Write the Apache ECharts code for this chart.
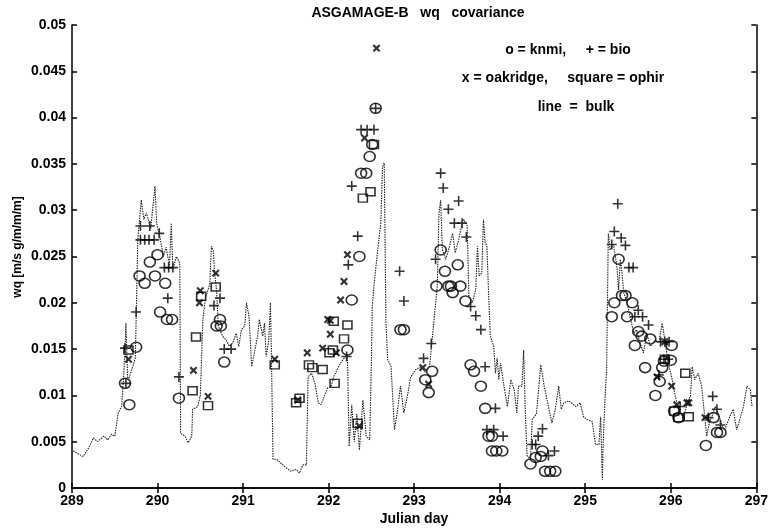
<!DOCTYPE html>
<html>
<head>
<meta charset="utf-8">
<script src="https://cdn.jsdelivr.net/npm/echarts@6/dist/echarts.min.js"></script>
<style>
  html, body { margin: 0; padding: 0; background: #fff; }
  #chart { width: 771px; height: 530px; }
</style>
</head>
<body>
<div id="chart"></div>
<script>
// Bulk-formula covariance (dotted line)
const bulkDay = [289.015,289.13,289.2,289.25,289.3,289.37,289.42,289.46,289.5,289.54,289.58,289.6,289.62,289.63,289.65,289.66,289.71,289.74,289.77,289.79,289.81,289.84,289.87,289.92,289.97,289.99,290.03,290.07,290.1,290.14,290.16,290.18,290.22,290.26,290.27,290.32,290.36,290.4,290.41,290.47,290.5,290.53,290.56,290.59,290.61,290.63,290.65,290.67,290.69,290.71,290.76,290.8,290.84,290.88,290.92,290.95,290.98,291.02,291.04,291.07,291.1,291.14,291.17,291.19,291.23,291.25,291.27,291.3,291.32,291.33,291.35,291.39,291.44,291.5,291.56,291.62,291.66,291.7,291.74,291.76,291.8,291.84,291.88,291.91,291.95,291.99,292.03,292.06,292.1,292.14,292.18,292.22,292.24,292.27,292.3,292.33,292.36,292.4,292.44,292.48,292.5,292.51,292.53,292.57,292.61,292.63,292.65,292.67,292.69,292.73,292.77,292.8,292.84,292.88,292.92,292.96,293.02,293.08,293.13,293.18,293.27,293.29,293.31,293.33,293.37,293.41,293.45,293.48,293.52,293.56,293.58,293.62,293.64,293.68,293.72,293.74,293.76,293.79,293.81,293.83,293.85,293.87,293.89,293.93,293.95,293.97,293.99,294.01,294.05,294.09,294.13,294.17,294.2,294.22,294.26,294.28,294.3,294.32,294.36,294.38,294.43,294.48,294.52,294.57,294.61,294.65,294.69,294.72,294.75,294.81,294.89,294.94,294.98,295.02,295.08,295.12,295.16,295.18,295.2,295.21,295.23,295.25,295.27,295.29,295.33,295.37,295.39,295.41,295.43,295.45,295.49,295.53,295.57,295.6,295.64,295.68,295.72,295.76,295.82,295.86,295.9,295.93,295.97,296.01,296.05,296.09,296.15,296.19,296.23,296.25,296.28,296.32,296.36,296.4,296.42,296.45,296.48,296.52,296.56,296.6,296.63,296.69,296.73,296.77,296.81,296.85,296.89,296.93,296.95];
const bulkVal = [0.0040,0.0034,0.0044,0.0054,0.0050,0.0056,0.0052,0.0058,0.0056,0.0081,0.0088,0.0115,0.0150,0.0178,0.0120,0.0117,0.0131,0.0140,0.0270,0.0290,0.0311,0.0290,0.0297,0.0280,0.0326,0.0286,0.0270,0.0250,0.0260,0.0240,0.0286,0.0236,0.0250,0.0243,0.0059,0.0056,0.0049,0.0056,0.0085,0.0088,0.0100,0.0182,0.0205,0.0214,0.0220,0.0261,0.0257,0.0230,0.0214,0.0175,0.0164,0.0160,0.0153,0.0157,0.0167,0.0153,0.0171,0.0175,0.0200,0.0185,0.0131,0.0150,0.0164,0.0182,0.0164,0.0178,0.0142,0.0160,0.0200,0.0150,0.0031,0.0031,0.0027,0.0022,0.0018,0.0020,0.0016,0.0025,0.0025,0.0120,0.0124,0.0113,0.0092,0.0090,0.0099,0.0108,0.0110,0.0120,0.0128,0.0135,0.0140,0.0145,0.0045,0.0090,0.0050,0.0080,0.0041,0.0095,0.0056,0.0052,0.0135,0.0196,0.0218,0.0254,0.0286,0.0347,0.0351,0.0180,0.0139,0.0131,0.0063,0.0080,0.0110,0.0081,0.0099,0.0120,0.0128,0.0131,0.0125,0.0131,0.0218,0.0297,0.0311,0.0257,0.0247,0.0260,0.0275,0.0254,0.0268,0.0286,0.0290,0.0283,0.0207,0.0200,0.0214,0.0261,0.0229,0.0232,0.0290,0.0265,0.0261,0.0211,0.0164,0.0153,0.0124,0.0140,0.0117,0.0135,0.0110,0.0088,0.0117,0.0106,0.0081,0.0110,0.0110,0.0149,0.0080,0.0035,0.0031,0.0074,0.0080,0.0133,0.0110,0.0088,0.0070,0.0085,0.0110,0.0085,0.0092,0.0094,0.0088,0.0092,0.0077,0.0074,0.0072,0.0047,0.0047,0.0077,0.0009,0.0049,0.0095,0.0128,0.0275,0.0257,0.0263,0.0239,0.0214,0.0247,0.0232,0.0211,0.0200,0.0182,0.0167,0.0171,0.0157,0.0146,0.0167,0.0153,0.0160,0.0157,0.0178,0.0160,0.0135,0.0120,0.0100,0.0085,0.0074,0.0092,0.0099,0.0131,0.0117,0.0124,0.0110,0.0074,0.0056,0.0070,0.0077,0.0088,0.0080,0.0067,0.0063,0.0077,0.0085,0.0063,0.0075,0.0088,0.0110,0.0106,0.0088];

// KNMI (circles)
const knmiDay = [289.62,289.67,289.75,289.79,289.85,289.91,290.0,289.97,290.09,290.03,290.11,290.17,290.25,290.69,290.74,290.78,290.73,292.22,292.27,292.36,292.38,292.44,292.48,292.51,292.55,292.84,292.88,293.13,293.17,293.21,293.26,293.31,293.36,293.4,293.43,293.45,293.51,293.54,293.6,293.66,293.7,293.78,293.83,293.87,293.91,293.91,293.96,294.03,294.36,294.42,294.48,294.5,294.53,294.59,294.65,295.31,295.34,295.39,295.43,295.47,295.49,295.55,295.58,295.62,295.66,295.7,295.76,295.82,295.87,295.9,295.92,296.0,296.01,296.04,296.09,296.41,296.5,296.54,296.58];
const knmiVal = [0.0113,0.0090,0.0152,0.0229,0.0221,0.0244,0.0252,0.0229,0.0221,0.0190,0.0182,0.0182,0.0097,0.0175,0.0175,0.0136,0.0182,0.0149,0.0203,0.0250,0.0340,0.0340,0.0358,0.0371,0.0410,0.0171,0.0171,0.0117,0.0103,0.0126,0.0218,0.0257,0.0234,0.0218,0.0218,0.0211,0.0241,0.0218,0.0202,0.0133,0.0126,0.0110,0.0086,0.0056,0.0056,0.0040,0.0040,0.0040,0.0026,0.0033,0.0034,0.0040,0.0018,0.0018,0.0018,0.0185,0.0200,0.0247,0.0208,0.0208,0.0185,0.0200,0.0154,0.0169,0.0164,0.0130,0.0161,0.0100,0.0115,0.0130,0.0137,0.0138,0.0154,0.0083,0.0076,0.0046,0.0076,0.0060,0.0060];

// BIO (plus)
const bioDay = [289.62,289.63,289.75,289.8,289.91,289.8,289.85,289.9,289.96,290.02,290.08,290.13,290.18,290.12,290.25,290.66,290.73,290.78,290.86,292.21,292.23,292.27,292.34,292.38,292.45,292.53,292.55,292.83,292.88,293.11,293.2,293.25,293.31,293.34,293.4,293.52,293.47,293.56,293.61,293.66,293.72,293.78,293.83,293.95,293.85,293.93,294.04,294.38,294.42,294.45,294.5,294.57,294.64,295.31,295.34,295.38,295.42,295.47,295.51,295.56,295.58,295.62,295.67,295.74,295.86,295.88,295.92,295.93,295.97,295.98,296.11,296.44,296.49,296.54,296.58];
const bioVal = [0.0151,0.0113,0.0190,0.0283,0.0283,0.0268,0.0268,0.0268,0.0268,0.0275,0.0238,0.0238,0.0238,0.0205,0.0120,0.0197,0.0205,0.0150,0.0150,0.0142,0.0241,0.0326,0.0272,0.0387,0.0387,0.0387,0.0410,0.0234,0.0202,0.0140,0.0156,0.0247,0.0340,0.0324,0.0301,0.0310,0.0286,0.0286,0.0271,0.0196,0.0186,0.0171,0.0131,0.0086,0.0063,0.0063,0.0056,0.0047,0.0047,0.0056,0.0064,0.0035,0.0040,0.0263,0.0277,0.0307,0.0270,0.0262,0.0238,0.0238,0.0185,0.0192,0.0185,0.0176,0.0122,0.0158,0.0139,0.0158,0.0139,0.0158,0.0088,0.0076,0.0099,0.0085,0.0068];

// Oakridge (x)
const oakDay = [289.66,290.42,290.49,290.5,290.59,290.68,291.37,291.64,291.75,291.93,291.99,292.02,292.02,292.09,292.14,292.18,292.22,292.36,292.42,292.56,293.1,293.17,295.84,295.93,296.01,296.07,296.19,296.21,296.4];
const oakVal = [0.0139,0.0127,0.0200,0.0213,0.0099,0.0232,0.0139,0.0095,0.0146,0.0151,0.0182,0.0181,0.0166,0.0146,0.0203,0.0223,0.0252,0.0067,0.0378,0.0475,0.0130,0.0112,0.0120,0.0158,0.0110,0.0090,0.0092,0.0092,0.0076];

// Ophir (squares)
const ophDay = [289.66,290.41,290.45,290.51,290.59,290.68,291.37,291.62,291.66,291.77,291.81,291.93,292.01,292.05,292.06,292.07,292.18,292.22,292.34,292.4,292.49,292.53,295.93,296.04,296.09,296.17,296.21];
const ophVal = [0.0149,0.0105,0.0163,0.0207,0.0089,0.0217,0.0133,0.0092,0.0097,0.0133,0.0130,0.0128,0.0146,0.0149,0.0180,0.0113,0.0161,0.0176,0.0070,0.0313,0.0320,0.0371,0.0139,0.0083,0.0076,0.0124,0.0077];

// Axis ticks
const xTicks = [289, 290, 291, 292, 293, 294, 295, 296, 297];
const yTickStep = 0.005;

const zip = (a, b) => a.map((d, i) => [d, b[i]]);

const FONT = 'Liberation Sans, Arial, Helvetica, sans-serif';
// filled cross shapes used for "+" and (rotated) "x" markers
const plusPath = 'path://M-0.8,-5L0.8,-5L0.8,-0.8L5,-0.8L5,0.8L0.8,0.8L0.8,5L-0.8,5L-0.8,0.8L-5,0.8L-5,-0.8L-0.8,-0.8Z';
const crossPath = 'path://M-1.2,-5L1.2,-5L1.2,-1.2L5,-1.2L5,1.2L1.2,1.2L1.2,5L-1.2,5L-1.2,1.2L-5,1.2L-5,-1.2L-1.2,-1.2Z';

const chart = echarts.init(document.getElementById('chart'), null, { renderer: 'canvas' });

const axisCommon = {
  type: 'value',
  axisLine: { show: true, lineStyle: { color: '#000', width: 1.5 } },
  axisTick: { show: true, inside: true, length: 5, lineStyle: { color: '#000', width: 1.5 } },
  splitLine: { show: false }
};

const textStyle = (font, x, y, text, extra) => Object.assign({
  type: 'text', x: x, y: y,
  style: { text: text, font: font, fill: '#000', textAlign: 'center', textVerticalAlign: 'middle' }
}, extra || {});

chart.setOption({
  animation: false,
  backgroundColor: '#fff',
  grid: { left: 72, right: 13, top: 25, bottom: 42, containLabel: false },
  xAxis: [
    Object.assign({}, axisCommon, {
      position: 'bottom',
      min: xTicks[0], max: xTicks[xTicks.length - 1], interval: 1,
      axisLabel: { color: '#000', fontFamily: FONT, fontSize: 14, fontWeight: 'bold', margin: 6 }
    }),
    Object.assign({}, axisCommon, {
      position: 'top',
      min: xTicks[0], max: xTicks[xTicks.length - 1], interval: 1,
      axisLabel: { show: false }
    })
  ],
  yAxis: [
    Object.assign({}, axisCommon, {
      position: 'left',
      min: 0, max: 0.05, interval: yTickStep,
      axisLabel: { color: '#000', fontFamily: FONT, fontSize: 14, fontWeight: 'bold', margin: 6,
        formatter: v => String(+v.toFixed(3)) }
    }),
    Object.assign({}, axisCommon, {
      position: 'right',
      min: 0, max: 0.05, interval: yTickStep,
      axisLabel: { show: false }
    })
  ],
  graphic: [
    textStyle('bold 14px ' + FONT, 418, 13, 'ASGAMAGE-B   wq   covariance'),
    textStyle('bold 14px ' + FONT, 568, 50, 'o = knmi,     + = bio'),
    textStyle('bold 14px ' + FONT, 563, 78, 'x = oakridge,     square = ophir'),
    textStyle('bold 14px ' + FONT, 576, 107, 'line  =  bulk'),
    textStyle('bold 12px ' + FONT, 18, 247, 'wq [m/s g/m/m/m]', { rotation: Math.PI / 2 }),
    textStyle('bold 14px ' + FONT, 414, 519, 'Julian day')
  ],
  series: [
    {
      name: 'bulk', type: 'line', data: zip(bulkDay, bulkVal),
      showSymbol: false, symbol: 'none',
      lineStyle: { color: '#222', width: 1.1, type: [1.5, 1] }
    },
    {
      name: 'knmi', type: 'scatter', data: zip(knmiDay, knmiVal),
      symbol: 'circle', symbolSize: [11, 10],
      itemStyle: { color: 'rgba(0,0,0,0)', borderColor: '#000', borderWidth: 1.6 }
    },
    {
      name: 'bio', type: 'scatter', data: zip(bioDay, bioVal),
      symbol: plusPath, symbolSize: 10, symbolKeepAspect: true,
      itemStyle: { color: '#000' }
    },
    {
      name: 'oakridge', type: 'scatter', data: zip(oakDay, oakVal),
      symbol: crossPath, symbolSize: 9, symbolRotate: 45, symbolKeepAspect: true,
      itemStyle: { color: '#000' }
    },
    {
      name: 'ophir', type: 'scatter', data: zip(ophDay, ophVal),
      symbol: 'rect', symbolSize: [9, 8],
      itemStyle: { color: 'rgba(0,0,0,0)', borderColor: '#000', borderWidth: 1.5 }
    }
  ]
});
</script>
</body>
</html>
